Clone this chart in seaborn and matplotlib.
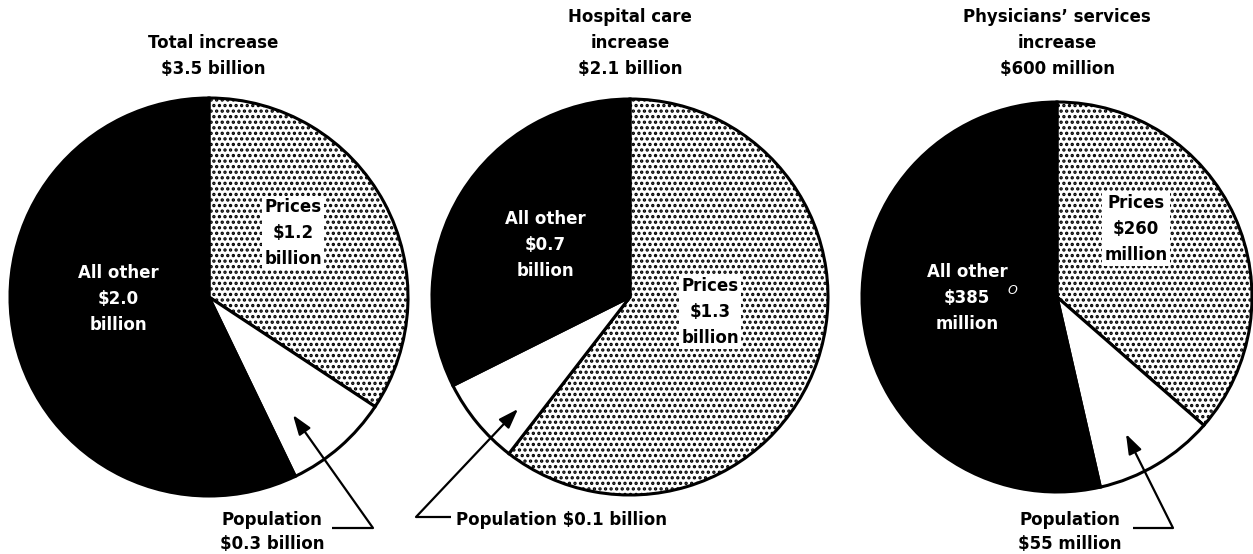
import matplotlib
matplotlib.use("Agg")
import matplotlib.pyplot as plt
import seaborn as sns

# ------------------------------------------
# Data (slices clockwise from 12 o'clock)
# ------------------------------------------
slice_names = ["Prices", "Population", "All other"]
total_values = [1.2, 0.3, 2.0]          # $ billion
hospital_values = [1.27, 0.15, 0.68]     # $ billion, shares as drawn
physician_values = [255, 70, 375]        # $ million, shares as drawn

titles = [
    "Total increase\n$3.5 billion",
    "Hospital care\nincrease\n$2.1 billion",
    "Physicians\u2019 services\nincrease\n$600 million",
]
prices_labels = ["Prices\n$1.2\nbillion", "Prices\n$1.3\nbillion", "Prices\n$260\nmillion"]
other_labels = ["All other\n$2.0\nbillion", "All other\n$0.7\nbillion", "All other\n$385\nmillion"]
population_labels = ["Population\n$0.3 billion", "Population $0.1 billion", "Population\n$55 million"]

# ------------------------------------------
# Layout (figure pixels, y measured from top)
# ------------------------------------------
W, H = 1253, 554
CENTERS = [(209, 297), (630, 297), (1057, 297)]
RADII = [199, 198, 195]
TITLE_POS = [(213, 56), (630, 43), (1057, 43)]
PRICES_POS = [(293, 233), (710, 312), (1136, 229)]
OTHER_POS = [(118, 299), (545, 245), (967, 298)]
POP_POS = [(272, 532, "center"), (456, 520, "left"), (1070, 532, "center")]
# horizontal leader (x0, x1, y) and arrow (junction -> tip)
LEADERS = [(332, 373, 528), (416, 451, 517), (1133, 1173, 528)]
ARROWS = [((373, 528), (293, 415)), ((416, 517), (518, 409)), ((1173, 528), (1126, 434))]

FONT_SIZE = 12
LINE_SPACING = 1.55

sns.set_theme(style="white")
plt.rcParams["font.family"] = ["DejaVu Sans"]
plt.rcParams["text.color"] = "black"
plt.rcParams["hatch.linewidth"] = 1.6
plt.rcParams["hatch.color"] = "black"


def main():
    fig = plt.figure(figsize=(W / 100, H / 100), dpi=100)
    ax = fig.add_axes([0, 0, 1, 1])

    all_values = [total_values, hospital_values, physician_values]
    for i, vals in enumerate(all_values):
        wedges, _ = ax.pie(
            vals,
            center=CENTERS[i],
            radius=RADII[i],
            startangle=-90,
            counterclock=True,   # y axis is inverted below, so this runs clockwise
            colors=["white", "white", "black"],
            wedgeprops=dict(edgecolor="black", linewidth=2.2),
        )
        wedges[0].set_hatch("...")

        ax.text(*TITLE_POS[i], titles[i], ha="center", va="center", color="black",
                fontsize=FONT_SIZE, fontweight="bold", linespacing=LINE_SPACING)
        ax.text(*PRICES_POS[i], prices_labels[i], ha="center", va="center", color="black",
                fontsize=FONT_SIZE, fontweight="bold", linespacing=LINE_SPACING,
                bbox=dict(boxstyle="square,pad=0.15", facecolor="white", edgecolor="none"))
        ax.text(*OTHER_POS[i], other_labels[i], ha="center", va="center",
                fontsize=FONT_SIZE, fontweight="bold", linespacing=LINE_SPACING, color="white")
        px, py, ha = POP_POS[i]
        ax.text(px, py, population_labels[i], ha=ha, va="center", color="black",
                fontsize=FONT_SIZE, fontweight="bold", linespacing=1.45)

        x0, x1, y = LEADERS[i]
        ax.plot([x0, x1], [y, y], color="black", lw=1.6, solid_capstyle="butt")
        start, tip = ARROWS[i]
        ax.annotate("", xy=tip, xytext=start,
                    arrowprops=dict(arrowstyle="-|>,head_length=1.0,head_width=0.35",
                                    color="black", lw=1.6, shrinkA=0, shrinkB=0,
                                    mutation_scale=12))

    # stray mark next to "$385" in the original
    ax.text(1012, 291, "O", ha="center", va="center", fontsize=9,
            fontstyle="italic", color="white")

    ax.set_xlim(0, W)
    ax.set_ylim(H, 0)
    ax.set_aspect("auto")
    ax.axis("off")

    fig.savefig("out.png", dpi=100, facecolor="white")


if __name__ == "__main__":
    main()
